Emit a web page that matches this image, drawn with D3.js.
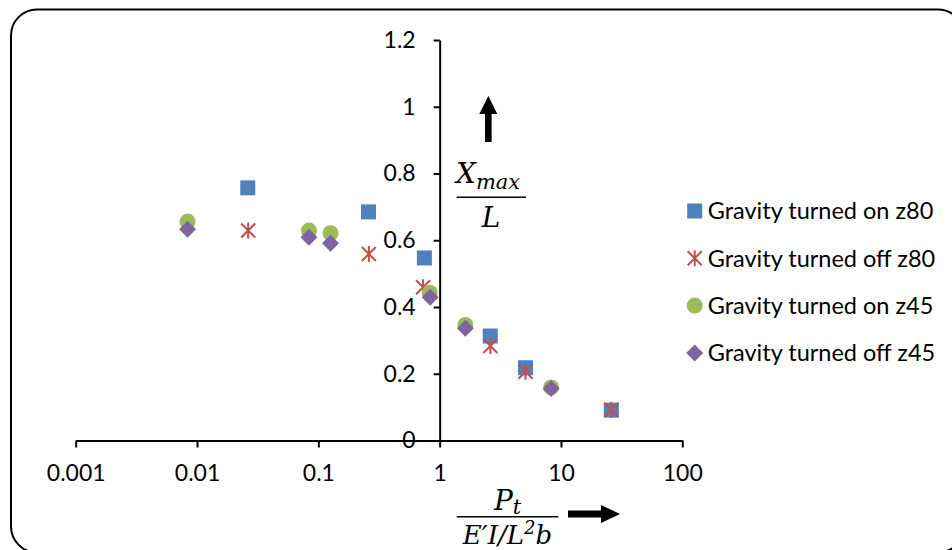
<!DOCTYPE html>
<html>
<head>
<meta charset="utf-8">
<script src="https://cdn.jsdelivr.net/npm/d3@7/dist/d3.min.js"></script>
<style>
  html, body { margin: 0; padding: 0; background: #fff; }
  svg { display: block; }
</style>
</head>
<body>
<svg id="chart" width="952" height="550"></svg>
<script>
// Series: dimensionless load vs. normalised maximum deflection
const xOnZ80  = [0.0262, 0.259, 0.748, 2.61, 5.1, 26];
const yOnZ80  = [0.757, 0.685, 0.547, 0.313, 0.218, 0.091];
const xOffZ80 = [0.0264, 0.261, 0.73, 2.62, 5.1, 26];
const yOffZ80 = [0.629, 0.559, 0.459, 0.283, 0.206, 0.092];
const xOnZ45  = [0.00836, 0.0837, 0.126, 0.828, 1.63, 8.29];
const yOnZ45  = [0.656, 0.629, 0.621, 0.443, 0.346, 0.159];
const xOffZ45 = [0.00836, 0.0837, 0.126, 0.835, 1.63, 8.29];
const yOffZ45 = [0.633, 0.609, 0.591, 0.429, 0.336, 0.156];

const seriesNames = ["Gravity turned on z80", "Gravity turned off z80",
                     "Gravity turned on z45", "Gravity turned off z45"];
const xTicks = [0.001, 0.01, 0.1, 1, 10, 100];
const xTickLabels = ["0.001", "0.01", "0.1", "1", "10", "100"];
const yTicks = [0, 0.2, 0.4, 0.6, 0.8, 1, 1.2];
const yTickLabels = ["0", "0.2", "0.4", "0.6", "0.8", "1", "1.2"];

const series = [
  { name: seriesNames[0], xs: xOnZ80,  ys: yOnZ80,  shape: "square",  color: "#4F81BD" },
  { name: seriesNames[1], xs: xOffZ80, ys: yOffZ80, shape: "star",    color: "#C0504D" },
  { name: seriesNames[2], xs: xOnZ45,  ys: yOnZ45,  shape: "circle",  color: "#9BBB59" },
  { name: seriesNames[3], xs: xOffZ45, ys: yOffZ45, shape: "diamond", color: "#8064A2" }
];

const svg = d3.select("#chart");
const uiFont = "Lato, 'Open Sans', sans-serif";
const mathFont = "'DejaVu Serif', 'Liberation Serif', serif";

// Rounded frame around the chart area
svg.append("rect")
  .attr("x", 11).attr("y", 9.5)
  .attr("width", 953).attr("height", 543)
  .attr("rx", 26).attr("ry", 26)
  .attr("fill", "#fff").attr("stroke", "#000").attr("stroke-width", 2);

const x = d3.scaleLog().domain([0.001, 100]).range([75.7, 682.3]);
const y = d3.scaleLinear().domain([0, 1.2]).range([440.5, 40]);

// Y axis crosses the X axis at x = 1
const yAxis = d3.axisLeft(y)
  .tickValues(yTicks)
  .tickFormat((d, i) => yTickLabels[i])
  .tickSize(6).tickSizeOuter(0).tickPadding(18);
const gy = svg.append("g").attr("transform", `translate(${x(1)},0)`).call(yAxis);

const xAxis = d3.axisBottom(x)
  .tickValues(xTicks)
  .tickFormat((d, i) => xTickLabels[i])
  .tickSize(7).tickSizeOuter(0).tickPadding(17);
const gx = svg.append("g").attr("transform", `translate(0,${y(0)})`).call(xAxis);

[gx, gy].forEach(g => {
  g.select(".domain").attr("stroke", "#000").attr("stroke-width", 2);
  g.selectAll(".tick line").attr("stroke", "#000").attr("stroke-width", 2);
  g.selectAll(".tick text")
    .attr("fill", "#000")
    .style("font-family", uiFont)
    .style("font-size", "23px");
});
gx.raise();

// Marker drawing
function drawMarker(g, shape, color) {
  if (shape === "square") {
    g.append("rect").attr("x", -7.5).attr("y", -7.5).attr("width", 15).attr("height", 15)
      .attr("fill", color);
  } else if (shape === "circle") {
    g.append("circle").attr("r", 8).attr("fill", color);
  } else if (shape === "diamond") {
    g.append("path").attr("d", "M0,-8.5L8.5,0L0,8.5L-8.5,0Z").attr("fill", color);
  } else if (shape === "star") {
    g.append("path").attr("d", "M-7,-7L7,7M-7,7L7,-7M0,-8L0,8")
      .attr("fill", "none").attr("stroke", color).attr("stroke-width", 2);
  }
}

series.forEach(s => {
  const g = svg.append("g");
  s.xs.forEach((xv, i) => {
    const m = g.append("g").attr("transform", `translate(${x(xv)},${y(s.ys[i])})`);
    drawMarker(m, s.shape, s.color);
  });
});

// Legend
const legend = svg.append("g");
series.forEach((s, i) => {
  const row = legend.append("g").attr("transform", `translate(694.7,${211 + i * 47.3})`);
  drawMarker(row, s.shape, s.color);
  row.append("text")
    .attr("x", 13).attr("y", 0).attr("dy", "0.36em")
    .style("font-family", uiFont).style("font-size", "23.5px")
    .attr("fill", "#000")
    .text(s.name);
});

// Y label: X_max / L with upward arrow
const yl = svg.append("g").style("font-family", mathFont).style("font-style", "italic").attr("fill", "#000");
const ynum = yl.append("text").attr("x", 456).attr("y", 183).style("font-size", "28px");
ynum.append("tspan").text("X");
ynum.append("tspan").attr("dy", 6).style("font-size", "21px").text("max");
yl.append("line").attr("x1", 456.7).attr("x2", 526).attr("y1", 197.3).attr("y2", 197.3)
  .attr("stroke", "#000").attr("stroke-width", 1.6);
yl.append("text").attr("x", 491).attr("y", 226.7).attr("text-anchor", "middle")
  .style("font-size", "28px").text("L");
svg.append("path")
  .attr("d", "M485,142L485,114L479.3,114L488.3,96L497.3,114L491.6,114L491.6,142Z")
  .attr("fill", "#000");

// X label: P_t / (E'I / L^2 b) with rightward arrow
const xl = svg.append("g").style("font-family", mathFont).style("font-style", "italic").attr("fill", "#000");
const xnum = xl.append("text").attr("x", 494).attr("y", 510).style("font-size", "28px");
xnum.append("tspan").text("P");
xnum.append("tspan").attr("dy", 4).style("font-size", "21px").text("t");
xl.append("line").attr("x1", 456.7).attr("x2", 558.3).attr("y1", 516.7).attr("y2", 516.7)
  .attr("stroke", "#000").attr("stroke-width", 1.6);
const xden = xl.append("text").attr("x", 507.5).attr("y", 544).attr("text-anchor", "middle")
  .style("font-size", "26px");
xden.append("tspan").text("E\u2032I/L");
xden.append("tspan").attr("dy", -10).style("font-size", "18px").text("2");
xden.append("tspan").attr("dy", 10).text("b");
svg.append("path")
  .attr("d", "M568,510.5L601,510.5L601,505L620,514L601,523L601,517.5L568,517.5Z")
  .attr("fill", "#000");
</script>
</body>
</html>
